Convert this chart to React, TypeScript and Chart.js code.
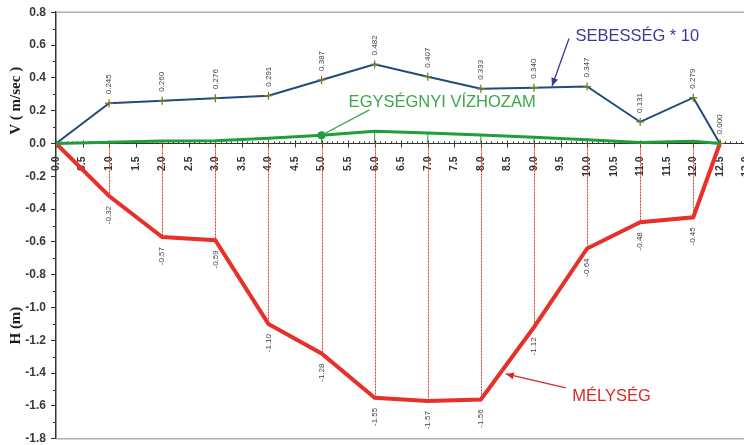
import { useEffect, useRef } from "react";
import { Chart, registerables } from "chart.js";

Chart.register(...registerables);

// Cross-section stations (m from the bank)
const stations = [0, 1, 2, 3, 4, 5, 6, 7, 8, 9, 10, 11, 12, 12.5];
// Velocity x 10 (m/sec)
const velocity10 = [0, 0.245, 0.26, 0.276, 0.291, 0.387, 0.482, 0.407, 0.333, 0.34, 0.347, 0.131, 0.279, 0.0];
// Unit discharge
const unitDischarge = [0, 0.008, 0.015, 0.016, 0.032, 0.05, 0.075, 0.064, 0.052, 0.038, 0.022, 0.006, 0.013, 0];
// Depth (m)
const depth = [0, -0.32, -0.57, -0.59, -1.1, -1.28, -1.55, -1.57, -1.56, -1.12, -0.64, -0.48, -0.45, 0];

const velocityLabelIdx = [1, 2, 3, 4, 5, 6, 7, 8, 9, 10, 11, 12, 13];
const depthLabelIdx = [1, 2, 3, 4, 5, 6, 7, 8, 9, 10, 11, 12];

const BLUE = "#1f4c7c";
const GREEN = "#1f9e3a";
const RED = "#e8302a";

type Note = {
  text: string;
  color: string;
  textAt: [number, number];
  from: [number, number];
  to: [number, number];
  head: boolean;
};

const notes: Note[] = [
  { text: "SEBESSÉG * 10", color: "#3a3a9c", textAt: [9.78, 0.653], from: [9.66, 0.64], to: [9.34, 0.35], head: true },
  { text: "EGYSÉGNYI VÍZHOZAM", color: "#3aa84a", textAt: [5.51, 0.25], from: [5.9, 0.205], to: [5, 0.05], head: false },
  { text: "MÉLYSÉG", color: "#d8282a", textAt: [9.72, -1.54], from: [9.6, -1.49], to: [8.47, -1.405], head: true },
];

const pts = (ys: number[]) => stations.map((x, i) => ({ x, y: ys[i] }));

const overlay = {
  id: "overlay",
  beforeDatasetsDraw(chart: any) {
    const { ctx, chartArea, scales } = chart;
    const x = scales.x;
    const y = scales.y;
    const y0 = y.getPixelForValue(0);
    const line = (a: number, b: number, c: number, d: number) => {
      ctx.beginPath();
      ctx.moveTo(a, b);
      ctx.lineTo(c, d);
      ctx.stroke();
    };
    ctx.save();
    // top / bottom frame
    ctx.strokeStyle = "#b0b0b0";
    ctx.lineWidth = 1.5;
    line(chartArea.left, chartArea.top, chartArea.right, chartArea.top);
    line(chartArea.left, chartArea.bottom, chartArea.right, chartArea.bottom);

    // x-axis ticks along the zero line
    ctx.strokeStyle = "#333";
    ctx.lineWidth = 1;
    for (let i = 0; i <= 130; i++) {
      const px = Math.round(x.getPixelForValue(i / 10)) + 0.5;
      if (i % 5 === 0) line(px, y0 - 3, px, y0 + 4);
      else line(px, y0 - 2, px, y0);
    }
    // y-axis minor ticks
    for (let i = -17; i <= 7; i += 2) {
      const py = Math.round(y.getPixelForValue(i / 10)) + 0.5;
      line(chartArea.left - 3, py, chartArea.left, py);
    }

    // unit discharge drop lines
    ctx.strokeStyle = GREEN;
    ctx.lineWidth = 1;
    stations.forEach((s, i) => {
      if (unitDischarge[i] <= 0) return;
      const px = x.getPixelForValue(s);
      line(px, y.getPixelForValue(unitDischarge[i]), px, y0);
    });

    // depth drop lines
    ctx.strokeStyle = RED;
    ctx.setLineDash([2, 1]);
    depthLabelIdx.forEach((i) => {
      const px = Math.round(x.getPixelForValue(stations[i])) + 0.5;
      line(px, y0, px, y.getPixelForValue(depth[i]));
    });
    ctx.setLineDash([]);
    ctx.restore();
  },
  afterDatasetsDraw(chart: any) {
    const { ctx, scales } = chart;
    const x = scales.x;
    const y = scales.y;
    ctx.save();

    // value labels
    ctx.font = "8px 'Liberation Sans', Arial, sans-serif";
    ctx.fillStyle = "#444";
    ctx.textBaseline = "middle";
    velocityLabelIdx.forEach((i) => {
      ctx.save();
      ctx.translate(x.getPixelForValue(stations[i]), y.getPixelForValue(velocity10[i]) - 9);
      ctx.rotate(-Math.PI / 2);
      ctx.textAlign = "left";
      ctx.fillText(velocity10[i].toFixed(3), 0, 0);
      ctx.restore();
    });
    depthLabelIdx.forEach((i) => {
      ctx.save();
      ctx.translate(x.getPixelForValue(stations[i]), y.getPixelForValue(depth[i]) + 10);
      ctx.rotate(-Math.PI / 2);
      ctx.textAlign = "right";
      ctx.fillText(depth[i].toFixed(2), 0, 0);
      ctx.restore();
    });

    // series annotations
    notes.forEach((n) => {
      const fx = x.getPixelForValue(n.from[0]);
      const fy = y.getPixelForValue(n.from[1]);
      const tx = x.getPixelForValue(n.to[0]);
      const ty = y.getPixelForValue(n.to[1]);
      ctx.strokeStyle = n.color;
      ctx.fillStyle = n.color;
      ctx.lineWidth = 1.3;
      ctx.beginPath();
      ctx.moveTo(fx, fy);
      ctx.lineTo(tx, ty);
      ctx.stroke();
      if (n.head) {
        const ang = Math.atan2(ty - fy, tx - fx);
        const L = 8;
        const W = 3.5;
        ctx.beginPath();
        ctx.moveTo(tx, ty);
        ctx.lineTo(tx - L * Math.cos(ang) + W * Math.sin(ang), ty - L * Math.sin(ang) - W * Math.cos(ang));
        ctx.lineTo(tx - L * Math.cos(ang) - W * Math.sin(ang), ty - L * Math.sin(ang) + W * Math.cos(ang));
        ctx.closePath();
        ctx.fill();
      }
      ctx.font = "16.5px 'Liberation Sans', Arial, sans-serif";
      ctx.textAlign = "left";
      ctx.textBaseline = "middle";
      ctx.fillText(n.text, x.getPixelForValue(n.textAt[0]), y.getPixelForValue(n.textAt[1]));
    });

    // axis titles
    ctx.fillStyle = "#1a1a1a";
    ctx.font = "bold 15px 'Liberation Serif', 'Times New Roman', serif";
    ctx.textAlign = "center";
    ctx.textBaseline = "middle";
    const title = (t: string, v: number) => {
      ctx.save();
      ctx.translate(16, y.getPixelForValue(v));
      ctx.rotate(-Math.PI / 2);
      ctx.fillText(t, 0, 0);
      ctx.restore();
    };
    title("V ( m/sec )", 0.26);
    title("H (m)", -1.11);
    ctx.restore();
  },
};

export default function App() {
  const ref = useRef<HTMLCanvasElement | null>(null);

  useEffect(() => {
    if (!ref.current) return;
    const chart = new Chart(ref.current, {
      type: "line",
      data: {
        datasets: [
          {
            label: "EGYSÉGNYI VÍZHOZAM",
            data: pts(unitDischarge),
            borderColor: GREEN,
            backgroundColor: GREEN,
            borderWidth: 3,
            pointRadius: stations.map((_, i) => (i === 5 ? 2.5 : 0)),
            tension: 0,
          },
          {
            label: "SEBESSÉG * 10",
            data: pts(velocity10),
            borderColor: BLUE,
            borderWidth: 2,
            pointStyle: "cross",
            pointRadius: 4,
            pointBorderColor: "#7d7d1c",
            pointBorderWidth: 1.3,
            tension: 0,
          },
          {
            label: "MÉLYSÉG",
            data: pts(depth),
            borderColor: RED,
            borderWidth: 4,
            pointRadius: 0,
            tension: 0,
          },
        ],
      },
      options: {
        animation: false,
        responsive: false,
        devicePixelRatio: 1,
        layout: { padding: { left: 8, top: 12, bottom: 1, right: 11 } },
        plugins: { legend: { display: false }, tooltip: { enabled: false } },
        scales: {
          x: {
            type: "linear",
            position: { y: 0 },
            min: 0,
            max: 13,
            grid: { display: false },
            border: { display: true, color: "#333", width: 1 },
            ticks: {
              stepSize: 0.5,
              autoSkip: false,
              minRotation: 90,
              maxRotation: 90,
              padding: 5,
              color: "#333",
              font: { family: "'Liberation Sans', Arial, sans-serif", size: 10.5, weight: "bold" },
              callback: (v: any) => Number(v).toFixed(1),
            },
          },
          y: {
            min: -1.8,
            max: 0.8,
            afterFit: (s: any) => {
              s.width = 48;
            },
            grid: { drawOnChartArea: false, drawTicks: true, tickLength: 5, color: "#333" },
            border: { display: true, color: "#333", width: 1.5 },
            ticks: {
              stepSize: 0.2,
              padding: 5,
              color: "#3a3a3a",
              font: { family: "'Liberation Sans', Arial, sans-serif", size: 12, weight: "bold" },
              callback: (v: any) => Number(v).toFixed(1),
            },
          },
        },
      },
      plugins: [overlay],
    });
    return () => chart.destroy();
  }, []);

  return (
    <div style={{ position: "fixed", left: 0, top: 0, width: 744, height: 445, overflow: "hidden", background: "#fff" }}>
      <canvas ref={ref} width={764} height={451} style={{ display: "block" }} />
    </div>
  );
}
